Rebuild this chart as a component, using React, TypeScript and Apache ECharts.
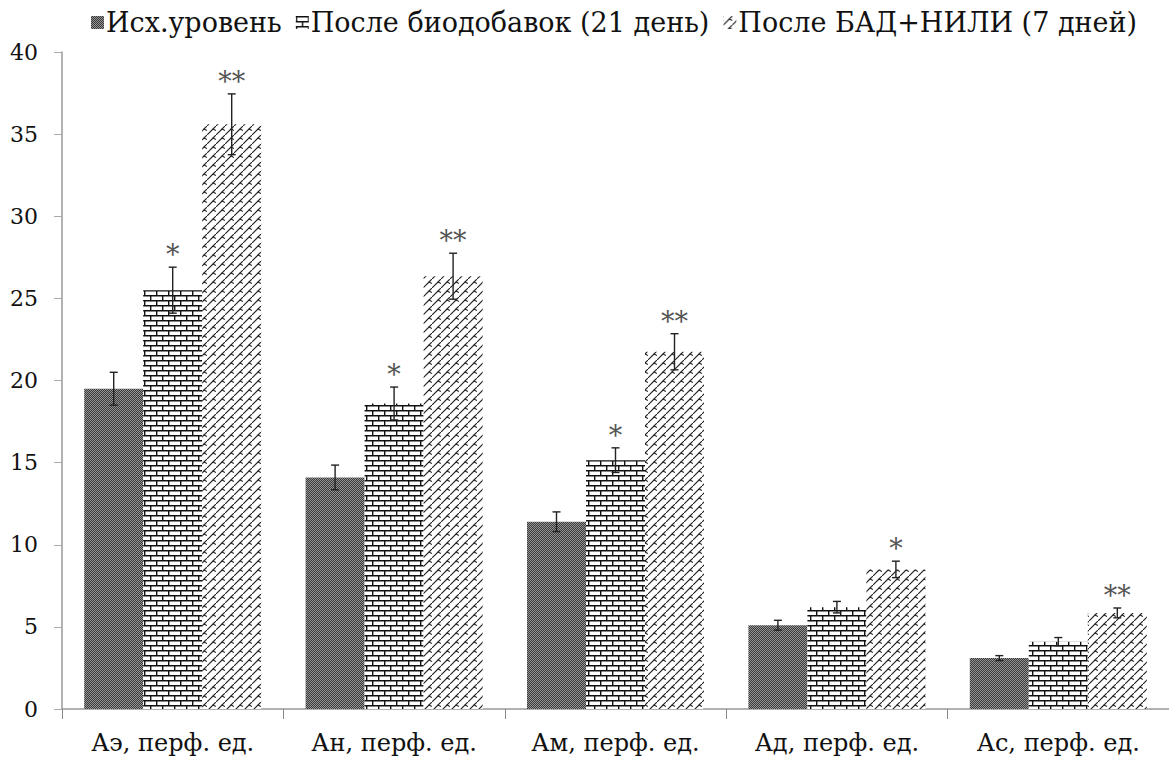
import React, { useEffect, useRef } from "react";
import * as echarts from "echarts";

const categories = ["Аэ, перф. ед.", "Ан, перф. ед.", "Ам, перф. ед.", "Ад, перф. ед.", "Ас, перф. ед."];
const seriesNames = ["Исх.уровень", "После биодобавок (21 день)", "После БАД+НИЛИ (7 дней)"];
const baseValues = [19.5, 14.1, 11.4, 5.1, 3.1];
const suppValues = [25.5, 18.6, 15.15, 6.2, 4.1];
const nilValues = [35.6, 26.35, 21.75, 8.5, 5.85];
const baseErr = [1.0, 0.75, 0.6, 0.3, 0.15];
const suppErr = [1.4, 1.0, 0.75, 0.35, 0.25];
const nilErr = [1.85, 1.4, 1.1, 0.5, 0.3];
const baseStars = ["", "", "", "", ""];
const suppStars = ["*", "*", "*", "", ""];
const nilStars = ["**", "**", "**", "*", "**"];
const yTicks = { min: 0, max: 40, interval: 5 };

function makeTile(w: number, h: number, draw: (ctx: CanvasRenderingContext2D) => void) {
  const c = document.createElement("canvas");
  c.width = w;
  c.height = h;
  const ctx = c.getContext("2d")!;
  draw(ctx);
  return { image: c, repeat: "repeat", imageWidth: w, imageHeight: h } as any;
}

function darkPattern() {
  return makeTile(2, 2, (ctx) => {
    ctx.fillStyle = "#3a3a3a";
    ctx.fillRect(0, 0, 2, 2);
    ctx.fillStyle = "#959595";
    ctx.fillRect(0, 0, 1, 1);
    ctx.fillRect(1, 1, 1, 1);
  });
}

function brickPattern() {
  return makeTile(12, 10, (ctx) => {
    ctx.fillStyle = "#ffffff";
    ctx.fillRect(0, 0, 12, 10);
    ctx.fillStyle = "#111111";
    ctx.fillRect(0, 0, 12, 1.5);
    ctx.fillRect(0, 5, 12, 1.5);
    ctx.fillRect(0, 0, 1.4, 5);
    ctx.fillRect(6, 5, 1.4, 5);
  });
}

function zigPattern() {
  return makeTile(9, 9, (ctx) => {
    ctx.fillStyle = "#ffffff";
    ctx.fillRect(0, 0, 9, 9);
    ctx.strokeStyle = "#222222";
    ctx.lineWidth = 1.1;
    ctx.beginPath();
    ctx.moveTo(0, 9);
    ctx.lineTo(6, 3);
    ctx.lineTo(9, 4.5);
    ctx.stroke();
    ctx.beginPath();
    ctx.moveTo(6, 3);
    ctx.lineTo(9, 0);
    ctx.stroke();
    ctx.beginPath();
    ctx.moveTo(-3, 7.5);
    ctx.lineTo(0, 9);
    ctx.stroke();
  });
}

const BAR_W = 59;
const FONT = "DejaVu Serif";

export default function App() {
  const ref = useRef<HTMLDivElement>(null);
  useEffect(() => {
    if (!ref.current) return;
    const chart = echarts.init(ref.current, null, { renderer: "svg" });
    const patterns = [darkPattern(), brickPattern(), zigPattern()];
    const values = [baseValues, suppValues, nilValues];
    const errs = [baseErr, suppErr, nilErr];
    const stars = [baseStars, suppStars, nilStars];

    const barSeries = seriesNames.map((name, i) => ({
      name,
      type: "bar",
      barWidth: BAR_W,
      barGap: "0%",
      itemStyle: { color: patterns[i] },
      data: values[i],
      z: 2,
    }));

    const errSeries = seriesNames.map((name, i) => ({
      type: "custom",
      name: name + "_err",
      z: 5,
      silent: true,
      data: values[i].map((v, k) => [k, v, errs[i][k]]),
      renderItem: (params: any, api: any) => {
        const k = api.value(0);
        const v = api.value(1);
        const e = api.value(2);
        const star = stars[i][k];
        const offset = (i - 1) * BAR_W;
        const top = api.coord([k, v + e]);
        const bot = api.coord([k, v - e]);
        const x = top[0] + offset;
        const cap = 4;
        const style = { stroke: "#222", lineWidth: 1.4 };
        const children: any[] = [
          { type: "line", shape: { x1: x, y1: top[1], x2: x, y2: bot[1] }, style },
          { type: "line", shape: { x1: x - cap, y1: top[1], x2: x + cap, y2: top[1] }, style },
          { type: "line", shape: { x1: x - cap, y1: bot[1], x2: x + cap, y2: bot[1] }, style },
        ];
        if (star) {
          children.push({
            type: "text",
            style: {
              text: star,
              x: x,
              y: top[1] + 1,
              align: "center",
              verticalAlign: "bottom",
              fontSize: 27,
              fontFamily: FONT,
              fill: "#555",
            },
          });
        }
        return { type: "group", children };
      },
    }));

    chart.setOption({
      animation: false,
      backgroundColor: "#ffffff",
      legend: {
        data: seriesNames,
        left: 86,
        top: 4,
        itemWidth: 13,
        itemHeight: 13,
        itemGap: 14,
        icon: "rect",
        textStyle: { fontFamily: FONT, fontSize: 27, color: "#111", padding: [0, 0, 0, -3] },
      },
      grid: { left: 62, right: -3, top: 52, bottom: 57 },
      xAxis: {
        type: "category",
        data: categories,
        axisLine: { lineStyle: { color: "#999", width: 1.5 } },
        axisTick: { show: true, length: 10, interval: 0, lineStyle: { color: "#888" } },
        axisLabel: { fontFamily: FONT, fontSize: 24, color: "#111", margin: 22, interval: 0 },
      },
      yAxis: {
        type: "value",
        min: yTicks.min,
        max: yTicks.max,
        interval: yTicks.interval,
        splitLine: { show: false },
        axisLine: { show: true, lineStyle: { color: "#999", width: 1.5 } },
        axisTick: { show: true, length: 8, lineStyle: { color: "#aaa" } },
        axisLabel: { fontFamily: FONT, fontSize: 22, color: "#111", margin: 24 },
      },
      series: [...barSeries, ...errSeries],
    });
    return () => chart.dispose();
  }, []);
  return <div ref={ref} style={{ width: 1169, height: 766, position: "absolute", left: 0, top: 0 }} />;
}
